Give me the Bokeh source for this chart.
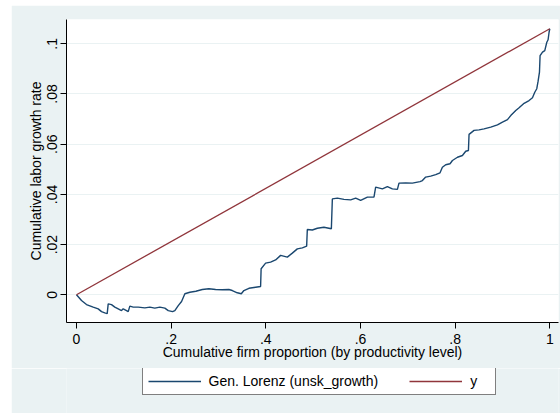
from bokeh.plotting import figure
from bokeh.models import FixedTicker, Legend, LegendItem, Range1d, Spacer
from bokeh.layouts import row, column
from bokeh.embed import file_html
from bokeh.resources import INLINE

# Generalized Lorenz curve
lorenz_x = [0.0, 0.0106, 0.0211, 0.0353, 0.0459, 0.0529, 0.0598, 0.0649, 0.0670, 0.0740,
            0.0810, 0.0882, 0.0951, 0.0987, 0.1057, 0.1093, 0.1127, 0.1199, 0.1304, 0.1444,
            0.1550, 0.1655, 0.1761, 0.1867, 0.1939, 0.2030, 0.2078, 0.2150, 0.2220, 0.2290,
            0.2395, 0.2522, 0.2658, 0.2797, 0.2939, 0.3080, 0.3220, 0.3292, 0.3397, 0.3482,
            0.3537, 0.3643, 0.3784, 0.3890, 0.3901, 0.3996, 0.4101, 0.4207, 0.4313, 0.4455,
            0.4560, 0.4666, 0.4772, 0.4863, 0.4877, 0.4983, 0.5089, 0.5228, 0.5385, 0.5406,
            0.5512, 0.5651, 0.5793, 0.5899, 0.6004, 0.6146, 0.6285, 0.6321, 0.6463, 0.6569,
            0.6674, 0.6780, 0.6814, 0.6956, 0.7097, 0.7258, 0.7309, 0.7378, 0.7484, 0.7590,
            0.7681, 0.7731, 0.7801, 0.7892, 0.7943, 0.8049, 0.8154, 0.8224, 0.8281, 0.8294,
            0.8400, 0.8505, 0.8611, 0.8753, 0.8894, 0.9000, 0.9106, 0.9175, 0.9281, 0.9351,
            0.9457, 0.9562, 0.9634, 0.9683, 0.9725, 0.9753, 0.9782, 0.9795, 0.9846, 0.9894,
            0.9937, 0.9964, 0.9985, 1.0]
lorenz_y = [0.0, -0.0023, -0.0039, -0.0049, -0.0056, -0.0067, -0.0072, -0.0075, -0.0036, -0.0039,
            -0.0049, -0.0056, -0.0063, -0.0056, -0.0063, -0.0067, -0.0045, -0.0049, -0.0049, -0.0052,
            -0.0049, -0.0053, -0.0049, -0.0053, -0.0063, -0.0067, -0.0063, -0.0043, -0.0027, 0.0004,
            0.0010, 0.0014, 0.0021, 0.0024, 0.0021, 0.0020, 0.0021, 0.0017, 0.0008, 0.0004,
            0.0017, 0.0026, 0.0030, 0.0033, 0.0104, 0.0126, 0.0130, 0.0139, 0.0157, 0.0150,
            0.0166, 0.0183, 0.0187, 0.0194, 0.0260, 0.0258, 0.0265, 0.0269, 0.0263, 0.0382,
            0.0385, 0.0380, 0.0378, 0.0385, 0.0376, 0.0389, 0.0389, 0.0429, 0.0422, 0.0431,
            0.0422, 0.0420, 0.0445, 0.0446, 0.0445, 0.0451, 0.0455, 0.0469, 0.0473, 0.0479,
            0.0486, 0.0508, 0.0518, 0.0522, 0.0535, 0.0548, 0.0555, 0.0572, 0.0575, 0.0639,
            0.0655, 0.0657, 0.0661, 0.0668, 0.0677, 0.0688, 0.0698, 0.0714, 0.0734, 0.0745,
            0.0763, 0.0774, 0.0785, 0.0807, 0.0821, 0.0851, 0.0887, 0.0953, 0.0967, 0.0973,
            0.1006, 0.1016, 0.1046, 0.1060]

# Equality line "y"
eq_x = [0.0, 1.0]
eq_y = [0.0, 0.106]

x_ticks = [0, 0.2, 0.4, 0.6, 0.8, 1]
x_tick_labels = ["0", ".2", ".4", ".6", ".8", "1"]
y_ticks = [0, 0.02, 0.04, 0.06, 0.08, 0.1]
y_tick_labels = ["0", ".02", ".04", ".06", ".08", ".1"]

series_labels = ["Gen. Lorenz (unsk_growth)", "y"]

BG = "#EAF2F3"
NAVY = "#1a476f"
MAROON = "#90353b"
FONT = "Liberation Sans"
LW1 = 1.4
LW2 = 1.3

p = figure(frame_width=492, frame_height=303, output_backend="svg", toolbar_location=None,
           x_range=Range1d(-0.0211, 1.0184), y_range=Range1d(-0.01104, 0.10968),
           min_border_left=55, min_border_right=2, min_border_top=14, min_border_bottom=46,
           background_fill_color="white", border_fill_color=BG)
p.outline_line_color = None

p.line(lorenz_x, lorenz_y, line_color=NAVY, line_width=LW1)
p.line(eq_x, eq_y, line_color=MAROON, line_width=LW2)

p.xgrid.visible = False
p.ygrid.grid_line_color = BG
p.ygrid.grid_line_width = 1.2
p.ygrid.ticker = FixedTicker(ticks=y_ticks)

for ax in (p.xaxis[0], p.yaxis[0]):
    ax.axis_line_color = "black"
    ax.axis_line_width = 1
    ax.major_tick_line_color = "black"
    ax.major_tick_out = 6
    ax.major_tick_in = 0
    ax.minor_tick_line_color = None
    ax.major_label_text_font = FONT
    ax.major_label_text_font_size = "14px"
    ax.major_label_text_color = "black"
    ax.axis_label_text_font = FONT
    ax.axis_label_text_font_size = "14px"
    ax.axis_label_text_font_style = "normal"
    ax.axis_label_text_color = "black"

p.xaxis.ticker = FixedTicker(ticks=x_ticks)
p.xaxis.major_label_overrides = {t: l for t, l in zip(x_ticks, x_tick_labels)}
p.xaxis.axis_label = "Cumulative firm proportion (by productivity level)"
p.xaxis.major_label_standoff = 5
p.xaxis.axis_label_standoff = -3

p.yaxis.ticker = FixedTicker(ticks=y_ticks)
p.yaxis.major_label_overrides = {t: l for t, l in zip(y_ticks, y_tick_labels)}
p.yaxis.axis_label = "Cumulative labor growth rate"
p.yaxis.major_label_orientation = "vertical"
p.yaxis.major_label_standoff = 3
p.yaxis.axis_label_standoff = 1

# Legend strip below the chart; its key lines use the same series but lie outside its view
pl = figure(width=549, height=45, output_backend="svg", toolbar_location=None,
            x_range=Range1d(5, 6), y_range=Range1d(5, 6), min_border=0,
            background_fill_color=BG, border_fill_color=BG)
pl.outline_line_color = None
pl.axis.visible = False
pl.grid.visible = False
k1 = pl.line(lorenz_x, lorenz_y, line_color=NAVY, line_width=LW1)
k2 = pl.line(eq_x, eq_y, line_color=MAROON, line_width=LW2)

legend = Legend(items=[LegendItem(label=series_labels[0], renderers=[k1]),
                       LegendItem(label=series_labels[1], renderers=[k2])],
                orientation="horizontal", location=(75.5, 18),
                border_line_color="black", border_line_width=1,
                background_fill_color="white", background_fill_alpha=1,
                label_text_font=FONT, label_text_font_size="14px", label_text_color="black",
                glyph_width=53, glyph_height=16, label_height=16, label_standoff=8,
                spacing=31, padding=5, margin=0)
pl.add_layout(legend, "center")

layout = row(Spacer(width=11, height=413),
             column(Spacer(width=549, height=5), p, pl))

open("out.html", "w").write(file_html(layout, INLINE))
